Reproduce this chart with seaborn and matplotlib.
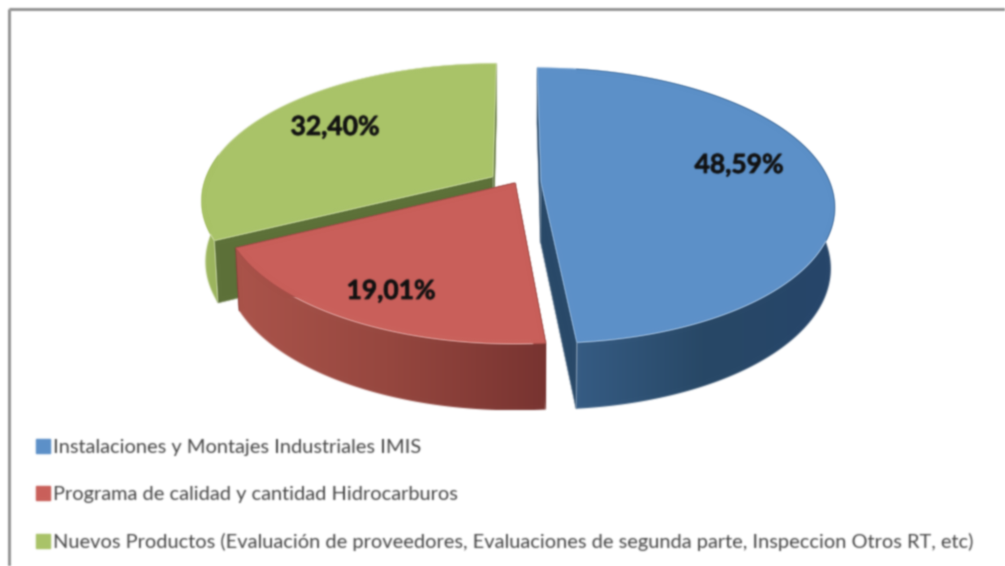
import numpy as np
import seaborn as sns
import matplotlib.pyplot as plt
import matplotlib.patheffects as pe
from matplotlib.patches import Patch, Polygon

# Data
categories = ['Instalaciones y Montajes Industriales IMIS',
              'Programa de calidad y cantidad Hidrocarburos',
              'Nuevos Productos (Evaluación de proveedores, Evaluaciones de segunda parte, Inspeccion Otros RT, etc)']
values = [48.59, 19.01, 32.40]
explode = [0.09, 0.0, 0.09]

# Colours: top face, rim gradient (left to right), cut wall
top_colors = ['#5c90c8', '#c9605a', '#a9c368']
rim_colors = [['#365c84', '#284866', '#26456a'],
              ['#ab544b', '#96473f', '#783431'],
              ['#a6bf65', '#9cb55e', '#9cb55e']]
cut_colors = ['#284868', '#7a3431', '#5c7038']

# Projection of the pie in pixels, the centre is the un-exploded apex
CX, CY = 515, 183
A, B, K = 289, 134, 0.167
DEPTH = 60
label_pos = [(739, 165), (391, 291), (335, 127)]

sns.set_theme(style='white')
plt.rcParams['font.family'] = ['Lato', 'DejaVu Sans']

fig, ax = plt.subplots(figsize=(10.05, 5.66), dpi=100)
fig.subplots_adjust(0, 0, 1, 1)
ax.set_axis_off()


def soften(img, dpi, sigma=0.9, pad=4):
    # the reference is a blurry screenshot, so blur every mark a little
    kernel = np.exp(-0.5 * (np.arange(-pad, pad + 1) / sigma) ** 2)
    kernel /= kernel.sum()
    img = np.pad(img, ((pad, pad), (pad, pad), (0, 0)))
    alpha = img[..., 3:]
    stack = np.concatenate([img[..., :3] * alpha, alpha], axis=2)
    for axis in [0, 1]:
        stack = np.apply_along_axis(np.convolve, axis, stack, kernel, mode='same')
    out = stack.copy()
    out[..., :3] = stack[..., :3] / np.maximum(stack[..., 3:], 1e-6)
    return np.clip(out, 0, 1), -pad, -pad


def project(px, py, lower=False):
    # perspective view of a point of the unit circle plane
    w = 1 + K * py
    if lower:
        return CX + 0.988 * A * px / w, CY + DEPTH - 1.04 * B * py / w
    return CX + A * px / w, CY - B * py / w


def slice_points(start, end, ex):
    # angles run clockwise from the top of the pie
    mid = np.radians((start + end) / 2)
    ox, oy = ex * np.sin(mid), ex * np.cos(mid)
    t = np.radians(np.linspace(start, end, 200))
    return ox, oy, ox + np.sin(t), oy + np.cos(t)


def draw_slice(start, end, ex, top, rim, cut):
    ox, oy, xs, ys = slice_points(start, end, ex)
    ux, uy = project(xs, ys)
    lx, ly = project(xs, ys, lower=True)
    ax0, ay0 = project(ox, oy)
    bx0, by0 = project(ox, oy, lower=True)

    # cut walls
    for i in [0, -1]:
        ax.fill([ax0, ux[i], lx[i], bx0], [ay0, uy[i], ly[i], by0], color=cut, lw=0.3, zorder=2)

    # rim with a horizontal gradient, clipped to the wall shape
    wall_x = np.r_[ux, lx[::-1]]
    wall_y = np.r_[uy, ly[::-1]]
    clip = Polygon(np.c_[wall_x, wall_y], closed=True, transform=ax.transData, fc='none', ec='none')
    ax.add_patch(clip)
    front = ys < 0.15
    x0, x1 = wall_x[np.r_[front, front[::-1]]].min(), wall_x[np.r_[front, front[::-1]]].max()
    im = ax.imshow(np.linspace(0, 1, 256)[None, :], cmap=sns.blend_palette(rim, as_cmap=True),
                   extent=(x0, x1, wall_y.max(), wall_y.min()), aspect='auto', zorder=3)
    im.set_clip_path(clip)

    # top face
    ax.fill(np.r_[ax0, ux], np.r_[ay0, uy], color=top, lw=0.3, zorder=4)


angles = np.cumsum([0] + values) * 3.6
for i in [2, 0, 1]:
    draw_slice(angles[i], angles[i + 1], explode[i], top_colors[i], rim_colors[i], cut_colors[i])

for v, (lx, ly) in zip(values, label_pos):
    ax.text(lx, ly, f'{v:.2f}%'.replace('.', ','), ha='center', va='center', fontsize=19,
            fontweight='bold', color='#111111', zorder=6,
            path_effects=[pe.withStroke(linewidth=0.5, foreground='#111111')])

# Frame, only top and left
ax.hlines(9, 9, 1005, color='#8c8c8c', lw=2)
ax.vlines(9, 9, 566, color='#8c8c8c', lw=2)

ax.set_xlim(0, 1005)
ax.set_ylim(566, 0)

handles = [Patch(color=c, label=l) for c, l in zip(top_colors, categories)]
leg = ax.legend(handles=handles, loc='lower left', bbox_to_anchor=(36 / 1005, 15 / 566), frameon=False,
                prop={'size': 14.45}, labelcolor='#454545', handlelength=0.7, handleheight=0.7,
                handletextpad=0.15, labelspacing=1.5, borderpad=0, borderaxespad=0)

for artist in ax.get_children():
    if artist in ax.spines.values() or artist is ax.patch:
        continue
    artist.set_agg_filter(soften)

fig.savefig('out.png', dpi=100)
